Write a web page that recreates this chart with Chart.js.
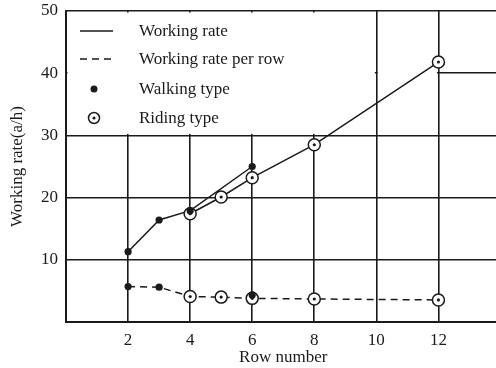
<!DOCTYPE html>
<html><head><meta charset="utf-8">
<script src="https://cdn.jsdelivr.net/npm/chart.js@4/dist/chart.umd.min.js"></script>
<style>
html,body{margin:0;padding:0;background:#fff;overflow:hidden;width:496px;height:368px;}
canvas{display:block;}
</style></head><body>
<canvas id="c" width="508" height="368"></canvas>
<script>
// ---- data ----
const xTicks = [2, 4, 6, 8, 10, 12];
const yTicks = [10, 20, 30, 40, 50];
const walkX = [2, 3, 4, 6];
const walkRate = [11.3, 16.4, 17.9, 25.0];
const rideX = [4, 5, 6, 8, 12];
const rideRate = [17.4, 20.1, 23.2, 28.5, 41.8];
const perRowX = [2, 3, 4, 5, 6, 8, 12];
const perRowRate = [5.7, 5.6, 4.1, 4.0, 3.8, 3.7, 3.55];
const walkPerRowX = [2, 3, 6];
const walkPerRowRate = [5.7, 5.6, 4.35];
const ridePerRowX = [4, 5, 6, 8, 12];
const ridePerRowRate = [4.1, 4.0, 3.8, 3.7, 3.55];
const legendLabels = ['Working rate', 'Working rate per row', 'Walking type', 'Riding type'];
const xTitle = 'Row number';
const yTitle = 'Working rate(a/h)';

const pts = (xs, ys) => xs.map((x, i) => ({x: x, y: ys[i]}));
const INK = '#1a1a1a';
const FONT = 'Liberation Serif, Times New Roman, serif';

const coverPlugin = {
  id: 'cover',
  beforeDatasetsDraw(chart) {
    const {ctx, scales: {x, y}} = chart;
    ctx.save();
    ctx.fillStyle = '#fff';
    const l = x.getPixelForValue(0) + 1.5, r = x.getPixelForValue(10) - 1.5;
    const t = y.getPixelForValue(50) + 1.5, b = y.getPixelForValue(30) - 1.5;
    ctx.fillRect(l, t, r - l, b - t);
    const l2 = x.getPixelForValue(10) + 1.5, r2 = x.getPixelForValue(12) - 1.5;
    const y40 = y.getPixelForValue(40);
    ctx.fillRect(l2, y40 - 2, r2 - l2, 4);
    ctx.restore();
  }
};

const legendPlugin = {
  id: 'inlegend',
  afterDraw(chart) {
    const {ctx, chartArea} = chart;
    const x0 = chartArea.left;
    const t = chartArea.top;
    const rows = [t + 20, t + 48, t + 78, t + 107];
    ctx.save();
    ctx.strokeStyle = INK;
    ctx.fillStyle = INK;
    ctx.lineWidth = 1.5;
    ctx.beginPath(); ctx.moveTo(x0 + 14, rows[0]); ctx.lineTo(x0 + 47, rows[0]); ctx.stroke();
    ctx.setLineDash([7, 5]);
    ctx.beginPath(); ctx.moveTo(x0 + 14, rows[1]); ctx.lineTo(x0 + 47, rows[1]); ctx.stroke();
    ctx.setLineDash([]);
    ctx.beginPath(); ctx.arc(x0 + 28, rows[2], 3.5, 0, Math.PI * 2); ctx.fill();
    ctx.beginPath(); ctx.arc(x0 + 28, rows[3], 5.5, 0, Math.PI * 2); ctx.stroke();
    ctx.beginPath(); ctx.arc(x0 + 28, rows[3], 1.6, 0, Math.PI * 2); ctx.fill();
    ctx.font = '17px ' + FONT;
    ctx.textBaseline = 'middle';
    ctx.textAlign = 'left';
    legendLabels.forEach((s, i) => ctx.fillText(s, x0 + 73, rows[i] + 1));
    ctx.restore();
  }
};

new Chart(document.getElementById('c'), {
  type: 'scatter',
  data: {
    datasets: [
      {data: pts(perRowX, perRowRate), showLine: true, borderColor: INK, borderWidth: 1.5, borderDash: [7, 5], pointRadius: 0, order: 5},
      {data: pts(walkX, walkRate), showLine: true, borderColor: INK, borderWidth: 1.5, pointRadius: 0, order: 4},
      {data: pts(rideX, rideRate), showLine: true, borderColor: INK, borderWidth: 1.5, pointRadius: 0, order: 4},
      {data: pts(rideX, rideRate).concat(pts(ridePerRowX, ridePerRowRate)), pointRadius: 6, pointBackgroundColor: '#fff', pointBorderColor: INK, pointBorderWidth: 1.5, order: 3},
      {data: pts(rideX, rideRate).concat(pts(ridePerRowX, ridePerRowRate)), pointRadius: 1.6, pointBackgroundColor: INK, pointBorderWidth: 0, order: 2},
      {data: pts(walkX, walkRate).concat(pts(walkPerRowX, walkPerRowRate)), pointRadius: 3.6, pointBackgroundColor: INK, pointBorderWidth: 0, order: 1}
    ]
  },
  options: {
    responsive: false,
    animation: false,
    events: [],
    layout: {padding: {top: 11, right: 0, left: 0, bottom: 0}},
    plugins: {legend: {display: false}, tooltip: {enabled: false}},
    scales: {
      x: {
        type: 'linear', min: 0, max: 14,
        afterBuildTicks(s) { s.ticks = [0, 2, 4, 6, 8, 10, 12, 14].map(v => ({value: v})); },
        afterFit(s) { s.height = 46; s.paddingLeft = 0; s.paddingRight = 0; },
        grid: {color: INK, lineWidth: 1.6, drawTicks: false},
        border: {color: INK, width: 2},
        ticks: {color: INK, font: {family: FONT, size: 17}, padding: 8, maxRotation: 0,
          callback: v => xTicks.includes(v) ? String(v) : ''},
        title: {display: true, text: xTitle, color: INK, font: {family: FONT, size: 17}, padding: {top: -2, bottom: 0}}
      },
      y: {
        type: 'linear', min: 0, max: 50,
        afterBuildTicks(s) { s.ticks = [0].concat(yTicks).map(v => ({value: v})); },
        afterFit(s) { s.width = 66; s.paddingTop = 0; s.paddingBottom = 0; },
        grid: {color: INK, lineWidth: 1.6, drawTicks: false},
        border: {color: INK, width: 2},
        ticks: {color: INK, font: {family: FONT, size: 17}, padding: 8,
          callback: v => yTicks.includes(v) ? String(v) : ''},
        title: {display: true, text: yTitle, color: INK, font: {family: FONT, size: 17}, padding: {top: 7, bottom: 0}}
      }
    }
  },
  plugins: [coverPlugin, legendPlugin]
});
</script>
</body></html>
